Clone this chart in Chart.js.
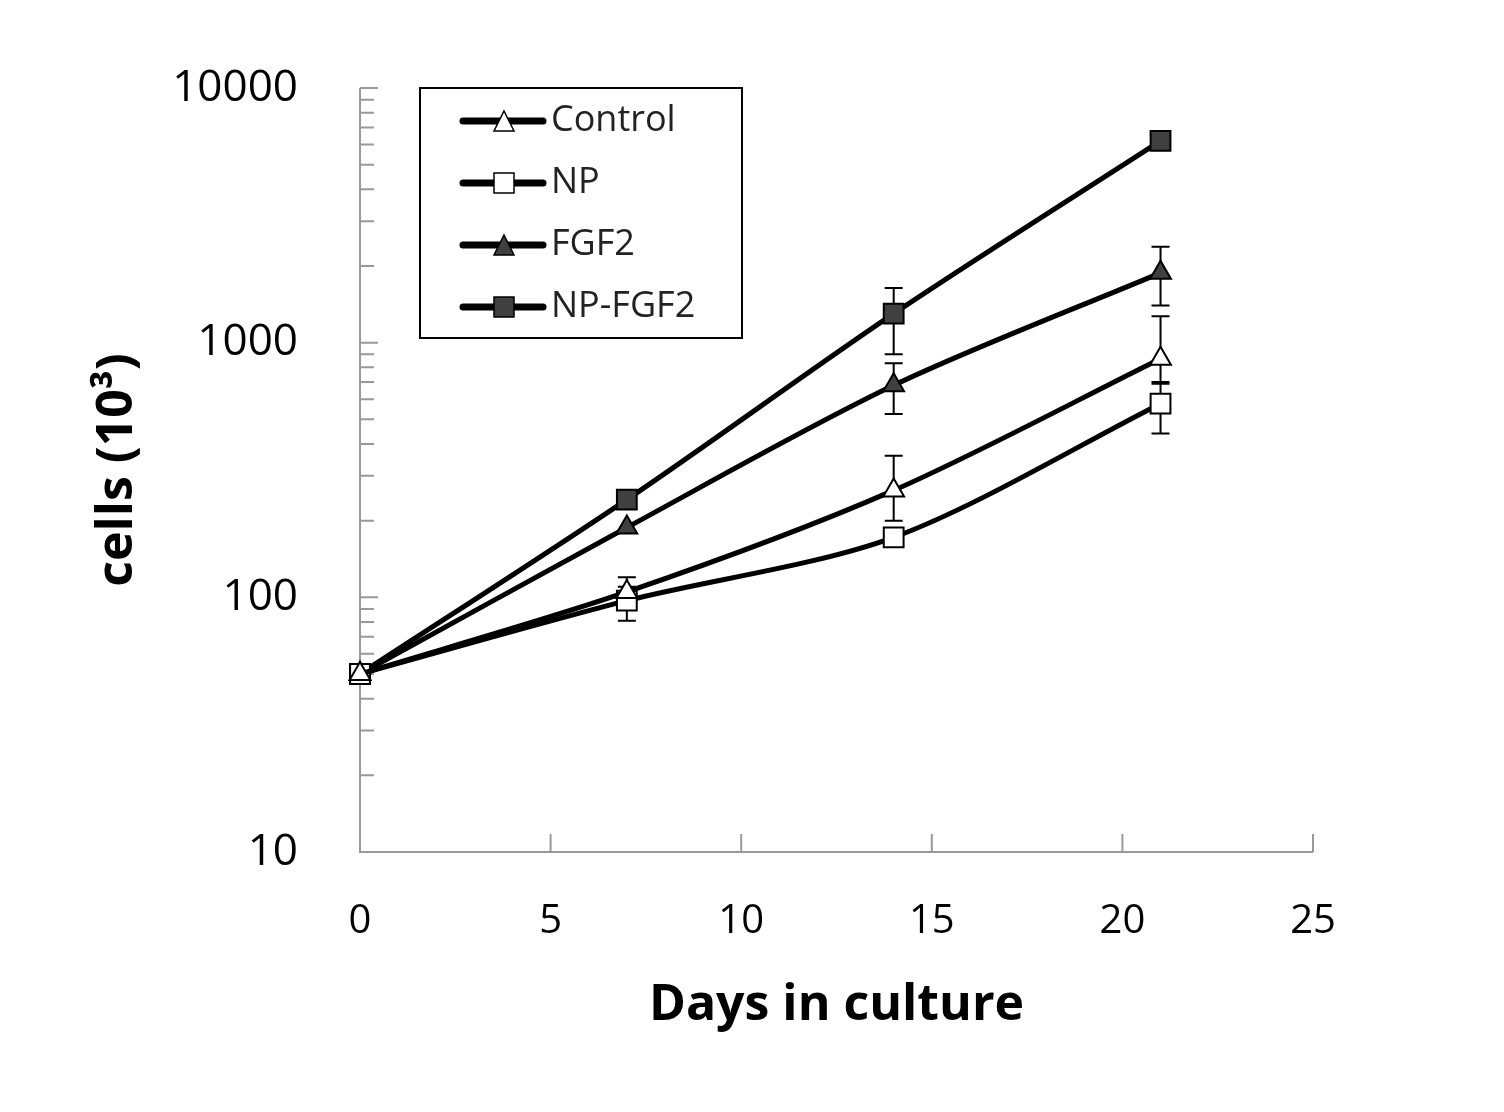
<!DOCTYPE html>
<html><head><meta charset="utf-8">
<script src="https://cdn.jsdelivr.net/npm/chart.js@4"></script>
<style>html,body{margin:0;background:#fff}#wrap{width:1504px;height:1112px}</style>
</head><body><div id="wrap"><canvas id="c"></canvas></div>
<script>
// days and cell counts (x10^3)
const days = [0, 7, 14, 21];
const control = [50, 105, 263, 865];
const np = [50, 97, 172, 576];
const fgf2 = [50, 188, 680, 1880];
const npFgf2 = [50, 242, 1300, 6200];
// error bar ends [low, high] per point, null = none visible
const controlErr = [null, [95, 120], [200, 360], [700, 1270]];
const npErr = [null, [81, 110], null, [440, 690]];
const fgf2Err = [null, null, [525, 830], [1400, 2380]];
const npFgf2Err = [null, null, [900, 1640], null];
const yMajor = [10, 100, 1000, 10000];
const xTicks = [0, 5, 10, 15, 20, 25];

const FONT = "'Open Sans', 'Noto Sans', sans-serif";
const pts = arr => arr.map((v, i) => ({ x: days[i], y: v }));
const mk = (label, data, err, style, fill) => ({
  label, data: pts(data), err, borderColor: '#000', borderWidth: 5, tension: 0.3, clip: false,
  pointStyle: style, pointRadius: style === 'triangle' ? 12 : 14,
  pointBackgroundColor: fill, pointBorderColor: '#000', pointBorderWidth: 2
});

const extras = {
  id: 'extras',
  beforeDatasetsDraw(chart) {
    const { ctx, scales: { x, y } } = chart;
    ctx.save();
    ctx.strokeStyle = '#000'; ctx.lineWidth = 2;
    chart.data.datasets.forEach(ds => ds.err.forEach((e, i) => {
      if (!e) return;
      const px = x.getPixelForValue(days[i]);
      const lo = y.getPixelForValue(e[0]), hi = y.getPixelForValue(e[1]);
      ctx.beginPath();
      ctx.moveTo(px, lo); ctx.lineTo(px, hi);
      ctx.moveTo(px - 9, lo); ctx.lineTo(px + 9, lo);
      ctx.moveTo(px - 9, hi); ctx.lineTo(px + 9, hi);
      ctx.stroke();
    }));
    // axes with inside ticks
    ctx.strokeStyle = '#999'; ctx.lineWidth = 2;
    const a = chart.chartArea;
    ctx.beginPath();
    ctx.moveTo(a.left, a.top); ctx.lineTo(a.left, a.bottom); ctx.lineTo(a.right, a.bottom);
    yMajor.slice(0, -1).forEach(m => {
      for (let k = 1; k <= 10; k++) {
        const py = y.getPixelForValue(m * k);
        const len = k === 1 || k === 10 ? 18 : 14;
        ctx.moveTo(a.left, py); ctx.lineTo(a.left + len, py);
      }
    });
    xTicks.forEach(t => {
      const px = x.getPixelForValue(t);
      ctx.moveTo(px, a.bottom); ctx.lineTo(px, a.bottom - 18);
    });
    ctx.stroke();
    ctx.restore();
  },
  afterDraw(chart) {
    const { ctx } = chart;
    const bx = 420, by = 88, bw = 322, bh = 250;
    ctx.save();
    ctx.fillStyle = '#fff'; ctx.fillRect(bx, by, bw, bh);
    ctx.strokeStyle = '#000'; ctx.lineWidth = 2; ctx.strokeRect(bx, by, bw, bh);
    ctx.font = '36px ' + FONT; ctx.textBaseline = 'middle';
    chart.data.datasets.forEach((ds, i) => {
      const cy = by + 33 + i * 62;
      ctx.strokeStyle = '#000'; ctx.lineWidth = 7; ctx.lineCap = 'round';
      ctx.beginPath(); ctx.moveTo(463, cy); ctx.lineTo(543, cy); ctx.stroke();
      ctx.fillStyle = ds.pointBackgroundColor; ctx.lineWidth = 1.5;
      ctx.beginPath();
      if (ds.pointStyle === 'triangle') { ctx.moveTo(504, cy - 10); ctx.lineTo(514, cy + 10); ctx.lineTo(494, cy + 10); ctx.closePath(); }
      else ctx.rect(494, cy - 10, 20, 20);
      ctx.fill(); ctx.stroke();
      ctx.fillStyle = '#222'; ctx.fillText(ds.label, 551, cy);
    });
    ctx.restore();
  }
};

new Chart(document.getElementById('c'), {
  type: 'line',
  data: {
    datasets: [
      mk('Control', control, controlErr, 'triangle', '#fff'),
      mk('NP', np, npErr, 'rect', '#fff'),
      mk('FGF2', fgf2, fgf2Err, 'triangle', '#404040'),
      mk('NP-FGF2', npFgf2, npFgf2Err, 'rect', '#404040')
    ]
  },
  options: {
    responsive: true, maintainAspectRatio: false, animation: false,
    layout: { padding: { top: 88, right: 191, left: 0, bottom: 76 } },
    plugins: { legend: { display: false }, tooltip: { enabled: false } },
    scales: {
      x: {
        type: 'linear', min: 0, max: 25,
        afterBuildTicks: s => { s.ticks = xTicks.map(v => ({ value: v })); },
        afterFit: s => { s.height = 184; },
        grid: { display: false }, border: { display: false },
        ticks: { color: '#000', font: { family: FONT, size: 40 }, padding: 38, maxRotation: 0 },
        title: { display: true, text: 'Days in culture', color: '#000',
          font: { family: FONT, size: 50, weight: 'bold' }, padding: { top: 30, bottom: 0 } }
      },
      y: {
        type: 'logarithmic', min: 10, max: 10000,
        afterBuildTicks: s => { s.ticks = yMajor.map(v => ({ value: v, major: true })); },
        afterFit: s => { s.width = 360; },
        grid: { display: false }, border: { display: false },
        ticks: { color: '#000', font: { family: FONT, size: 44 }, padding: 54, callback: v => String(v) },
        title: { display: true, text: 'cells (10³)', color: '#000',
          font: { family: FONT, size: 50, weight: 'bold' }, padding: { top: 88, bottom: 0 } }
      }
    }
  },
  plugins: [extras]
});
</script></body></html>
